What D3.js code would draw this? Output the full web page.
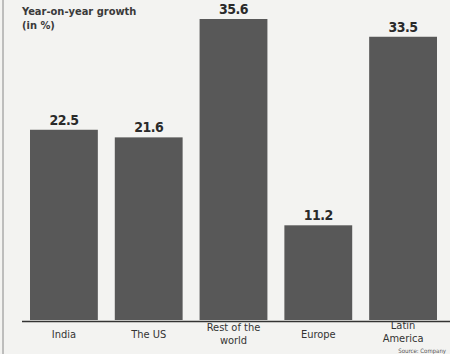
<!DOCTYPE html>
<html>
<head>
<meta charset="utf-8">
<script src="https://cdn.jsdelivr.net/npm/d3@7"></script>
<style>
  body { margin: 0; background: #f3f3f1; }
  svg { display: block; }
</style>
</head>
<body>
<svg id="chart" width="450" height="354"></svg>
<script>
const regions = ["India", "The US", "Rest of the world", "Europe", "Latin America"];
const growth = [22.5, 21.6, 35.6, 11.2, 33.5];
// labels split over two lines where the print wraps them
const regionLines = [["India"], ["The US"], ["Rest of the", "world"], ["Europe"], ["Latin", "America"]];

const width = 450;
const height = 354;
const baseline = 320;

const svg = d3.select("#chart");

svg.append("rect")
    .attr("width", width)
    .attr("height", height)
    .attr("fill", "#f3f3f1");

// left rule of the clipping
svg.append("line")
    .attr("x1", 3).attr("x2", 3)
    .attr("y1", 0).attr("y2", height)
    .attr("stroke", "#888")
    .attr("stroke-width", 1);

const x = d3.scaleBand()
    .domain(regions)
    .range([30, 437])
    .paddingInner(0.2)
    .paddingOuter(0);

const y = d3.scaleLinear()
    .domain([0, 35.6])
    .range([baseline, 19]);

const data = regions.map((r, i) => ({ name: r, value: growth[i], lines: regionLines[i] }));

svg.selectAll(".bar")
    .data(data)
    .enter().append("rect")
    .attr("class", "bar")
    .attr("x", d => x(d.name))
    .attr("y", d => y(d.value))
    .attr("width", x.bandwidth())
    .attr("height", d => baseline - y(d.value))
    .attr("fill", "#585858");

svg.selectAll(".value")
    .data(data)
    .enter().append("text")
    .attr("class", "value")
    .attr("x", d => x(d.name) + x.bandwidth() / 2)
    .attr("y", d => y(d.value) - 5)
    .attr("text-anchor", "middle")
    .style("font", "bold 14px 'DejaVu Sans Condensed', sans-serif")
    .style("letter-spacing", "-0.5px")
    .attr("fill", "#2a2a2a")
    .text(d => d.value.toFixed(1));

// baseline
svg.append("line")
    .attr("x1", 22).attr("x2", width)
    .attr("y1", baseline + 1.5).attr("y2", baseline + 1.5)
    .attr("stroke", "#333")
    .attr("stroke-width", 1.5);

const labels = svg.selectAll(".cat")
    .data(data)
    .enter().append("text")
    .attr("class", "cat")
    .attr("x", d => x(d.name) + x.bandwidth() / 2)
    .attr("y", 338)
    .attr("text-anchor", "middle")
    .style("font", "11px 'DejaVu Sans Condensed', sans-serif")
    .attr("fill", "#333");

labels.selectAll("tspan")
    .data(d => d.lines.map(l => ({ l, cx: x(d.name) + x.bandwidth() / 2 })))
    .enter().append("tspan")
    .attr("x", d => d.cx)
    .attr("dy", (d, i) => i === 0 ? 0 : 12.5)
    .text(d => d.l);

// shift two-line labels up so the first line sits higher
labels.filter(d => d.lines.length > 1).attr("y", 331);
labels.filter(d => d.name === "Latin America").attr("y", 329);

svg.append("text")
    .attr("x", 22).attr("y", 15)
    .style("font", "bold 11px 'DejaVu Sans Condensed', sans-serif")
    .attr("fill", "#3a3a3a")
    .text("Year-on-year growth");
svg.append("text")
    .attr("x", 22).attr("y", 29)
    .style("font", "bold 11px 'DejaVu Sans Condensed', sans-serif")
    .attr("fill", "#3a3a3a")
    .text("(in %)");

svg.append("text")
    .attr("x", 446).attr("y", 353)
    .attr("text-anchor", "end")
    .style("font", "6px 'DejaVu Sans Condensed', sans-serif")
    .attr("fill", "#555")
    .text("Source: Company");
</script>
</body>
</html>
